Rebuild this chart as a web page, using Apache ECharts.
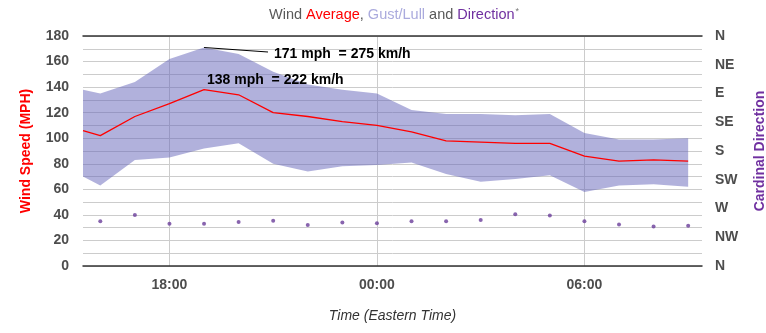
<!DOCTYPE html>
<html>
<head>
<meta charset="utf-8">
<script src="https://cdn.jsdelivr.net/npm/echarts@6/dist/echarts.min.js"></script>
<style>
  html, body { margin: 0; padding: 0; background: #ffffff; }
  #chart { width: 766px; height: 333px; }
</style>
</head>
<body>
<div id="chart"></div>
<script>
// Hourly wind readings (Eastern Time)
const times = ['15:30', '16:00', '17:00', '18:00', '19:00', '20:00', '21:00', '22:00', '23:00',
  '00:00', '01:00', '02:00', '03:00', '04:00', '05:00', '06:00', '07:00', '08:00', '09:00'];
const windAverage = [106, 102, 117, 127, 138, 134, 120, 117, 113, 110, 105, 98, 97, 96, 96, 86, 82, 83, 82];
const windGust = [138, 135, 144, 162, 171, 166, 152, 142, 138, 135, 122, 119, 119, 118, 119, 104, 99, 99, 100];
const windLull = [70, 63, 83, 85, 92, 96, 80, 74, 78, 79, 81, 72, 66, 68, 71, 58, 63, 64, 62];
const direction = [null, 290, 280, 294, 294, 291, 289, 296, 292, 293, 290, 290, 288, 279, 281, 290, 295, 298, 297];

// Axis ticks and labels
const timeRange = ['15:30', '09:24'];
const timeTicks = ['18:00', '00:00', '06:00'];
const speedTicks = [0, 20, 40, 60, 80, 100, 120, 140, 160, 180];
const directionLabels = ['N', 'NE', 'E', 'SE', 'S', 'SW', 'W', 'NW', 'N'];

// Clock time -> continuous hours, rolling past midnight
function clockHours(t) {
  const [h, m] = t.split(':').map(Number);
  return h + m / 60;
}
const startHour = clockHours(times[0]);
function toHours(t) {
  const v = clockHours(t);
  return v < startHour ? v + 24 : v;
}
const xs = times.map(toHours);
const fmtTime = v => {
  const h = Math.round(((v % 24) + 24) % 24);
  return (h < 10 ? '0' : '') + h + ':00';
};
const kmh = v => Math.round(v * 1.609344);

const gustPeak = windGust.indexOf(Math.max(...windGust));
const avgPeak = windAverage.indexOf(Math.max(...windAverage));

const labelFont = { fontFamily: 'Liberation Sans', fontWeight: 'bold', fontSize: 14, color: '#4d4d4d' };
const noteFont = { fontFamily: 'Liberation Sans', fontWeight: 'bold', fontSize: 14, color: '#000000' };

const chart = echarts.init(document.getElementById('chart'), null, { renderer: 'canvas' });
chart.setOption({
  animation: false,
  backgroundColor: '#ffffff',
  title: {
    left: 264,
    top: 2,
    text: '{a|Wind }{b|Average}{a|, }{c|Gust/Lull}{a| and }{d|Direction}{e|*}',
    textStyle: {
      fontFamily: 'Liberation Sans', fontSize: 14.5, fontWeight: 'normal',
      rich: {
        a: { fontFamily: 'Liberation Sans', fontSize: 14.5, color: '#595959' },
        b: { fontFamily: 'Liberation Sans', fontSize: 14.5, color: '#ff0000' },
        c: { fontFamily: 'Liberation Sans', fontSize: 14.5, color: '#aaaadd' },
        d: { fontFamily: 'Liberation Sans', fontSize: 14.5, color: '#7030a0' },
        e: { fontFamily: 'Liberation Sans', fontSize: 9, color: '#777777', verticalAlign: 'top', padding: [0, 0, 0, 1] }
      }
    }
  },
  grid: { left: 83, right: 64, top: 36, bottom: 67, containLabel: false, outerBoundsMode: 'none' },
  xAxis: [{
    type: 'value',
    min: toHours(timeRange[0]),
    max: toHours(timeRange[1]),
    name: 'Time (Eastern Time)',
    nameLocation: 'middle',
    nameGap: 43,
    nameTextStyle: { fontFamily: 'Liberation Sans', fontSize: 14, fontStyle: 'italic', color: '#333333' },
    axisLine: { show: true, lineStyle: { color: '#333333', width: 1.5 } },
    axisTick: { show: false, customValues: timeTicks.map(toHours) },
    axisLabel: Object.assign({ customValues: timeTicks.map(toHours), formatter: fmtTime, margin: 12 }, labelFont),
    splitLine: { show: true, lineStyle: { color: '#cccccc', width: 1 } }
  }, {
    type: 'value',
    position: 'top',
    min: toHours(timeRange[0]),
    max: toHours(timeRange[1]),
    axisLine: { show: true, lineStyle: { color: '#333333', width: 1.5 } },
    axisTick: { show: false },
    axisLabel: { show: false },
    splitLine: { show: false }
  }],
  yAxis: [{
    type: 'value',
    min: 0,
    max: 180,
    interval: 10,
    name: 'Wind Speed (MPH)',
    nameLocation: 'middle',
    nameGap: 50,
    nameTextStyle: { fontFamily: 'Liberation Sans', fontSize: 14, fontWeight: 'bold', color: '#ff0000' },
    axisLine: { show: false },
    axisTick: { show: false },
    axisLabel: Object.assign({ customValues: speedTicks, margin: 14 }, labelFont),
    splitLine: { show: true, lineStyle: { color: '#cccccc', width: 1 } }
  }, {
    type: 'value',
    min: 0,
    max: 360,
    interval: 45,
    inverse: true,
    position: 'right',
    name: 'Cardinal Direction',
    nameLocation: 'middle',
    nameGap: 51,
    nameTextStyle: { fontFamily: 'Liberation Sans', fontSize: 14, fontWeight: 'bold', color: '#7030a0' },
    axisLine: { show: false },
    axisTick: { show: false },
    axisLabel: Object.assign({ margin: 13, formatter: v => directionLabels[Math.round(v / 45)] }, labelFont),
    splitLine: { show: false }
  }],
  series: [{
    // Gust/lull band: one polygon from the gust line forward and the lull line back
    name: 'Gust/Lull',
    type: 'custom',
    clip: true,
    silent: true,
    z: 2,
    data: xs.map((x, i) => [x, windLull[i], windGust[i]]),
    encode: { x: 0, y: [1, 2] },
    renderItem: (params, api) => {
      if (params.dataIndex !== 0) return null;
      const upper = xs.map((x, i) => api.coord([x, windGust[i]]));
      const lower = xs.map((x, i) => api.coord([x, windLull[i]])).reverse();
      return {
        type: 'polygon',
        shape: { points: upper.concat(lower) },
        style: { fill: 'rgba(100, 100, 185, 0.5)' }
      };
    }
  }, {
    name: 'Average',
    type: 'line',
    data: xs.map((x, i) => [x, windAverage[i]]),
    symbol: 'none',
    lineStyle: { color: '#ff0000', width: 1.3 },
    z: 4,
    markPoint: {
      symbol: 'circle',
      symbolSize: 0,
      silent: true,
      data: [{
        coord: [xs[avgPeak], windAverage[avgPeak]],
        value: windAverage[avgPeak],
        label: { position: [3, -10] }
      }, {
        coord: [xs[gustPeak], windGust[gustPeak]],
        value: windGust[gustPeak],
        label: { position: [70, 7] }
      }],
      label: Object.assign({
        show: true,
        align: 'left',
        verticalAlign: 'middle',
        formatter: p => p.value + ' mph  = ' + kmh(p.value) + ' km/h'
      }, noteFont)
    },
    markLine: {
      silent: true,
      symbol: ['none', 'none'],
      label: { show: false },
      lineStyle: { color: '#000000', width: 1, type: 'solid' },
      data: [[{ coord: [xs[gustPeak], windGust[gustPeak]] }, { x: 268, y: 52 }]]
    }
  }, {
    name: 'Direction',
    type: 'scatter',
    yAxisIndex: 1,
    data: xs.map((x, i) => [x, direction[i]]).filter(d => d[1] != null),
    symbol: 'circle',
    symbolSize: 4,
    itemStyle: { color: '#6a3d9a' },
    z: 4
  }]
});
</script>
</body>
</html>
